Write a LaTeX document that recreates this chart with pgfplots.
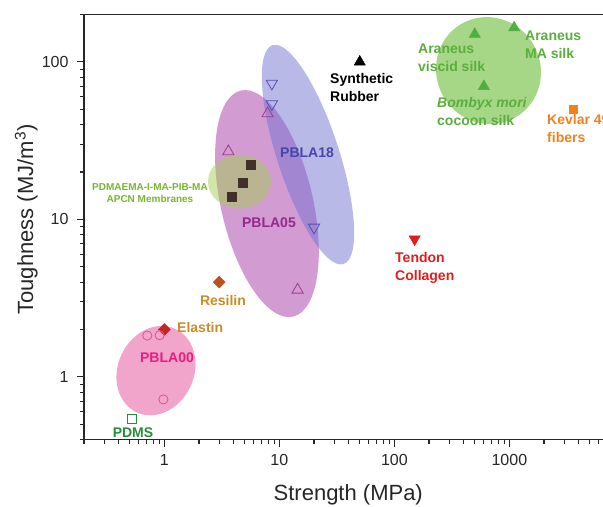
\documentclass[border=0pt]{standalone}
\usepackage{pgfplots}
\pgfplotsset{compat=1.18}
\usepackage{fontspec}
\setmainfont{Liberation Sans}
\definecolor{ePink}{RGB}{241,165,202}
\definecolor{ePurple}{RGB}{210,155,210}
\definecolor{eBlue}{RGB}{115,115,209}
\definecolor{eGreenA}{RGB}{165,205,85}
\definecolor{eGreenS}{RGB}{165,215,135}
\definecolor{tSilk}{RGB}{90,175,60}
\definecolor{tKevlar}{RGB}{240,130,30}
\definecolor{tTendon}{RGB}{225,30,30}
\definecolor{tGold}{RGB}{200,140,40}
\definecolor{tPink}{RGB}{230,30,130}
\definecolor{tPDMS}{RGB}{40,140,60}
\definecolor{tPurple}{RGB}{150,40,140}
\definecolor{tBlue}{RGB}{70,70,170}
\definecolor{tAPCN}{RGB}{120,180,50}
\definecolor{mResilin}{RGB}{190,80,30}
\definecolor{mElastin}{RGB}{200,35,30}
\definecolor{mPink}{RGB}{225,80,140}
\definecolor{mPurple}{RGB}{155,60,145}
\definecolor{mBlue}{RGB}{80,80,176}
\definecolor{mAPCN}{RGB}{68,48,42}
\definecolor{mSilk}{RGB}{80,175,65}
\begin{document}
\begin{tikzpicture}
\useasboundingbox (-84pt,-66.5pt) rectangle (519pt,439.6pt);
\begin{axis}[
  scale only axis, width=540.4pt, height=425.1pt,
  xmode=log, ymode=log, xmin=0.2, xmax=10000, ymin=0.4, ymax=200,
  xtick={1,10,100,1000}, xticklabels={1,10,100,1000},
  ytick={1,10,100}, yticklabels={1,10,100},
  minor xtick={0.2,0.3,0.4,0.5,0.6,0.7,0.8,0.9,2,3,4,5,6,7,8,9,20,30,40,50,60,70,80,90,200,300,400,500,600,700,800,900,2000,3000,4000,5000,6000,7000,8000,9000},
  minor ytick={0.4,0.5,0.6,0.7,0.8,0.9,2,3,4,5,6,7,8,9,20,30,40,50,60,70,80,90,200},
  tick align=outside, tick pos=left,
  major tick length=7pt, minor tick length=4pt,
  axis line style={line width=1.4pt, black!85},
  every tick/.style={line width=1.1pt, black!85},
  every minor tick/.style={line width=1.1pt, black!85},
  tick label style={font=\fontsize{16}{19}\selectfont, text=black!85},
  xticklabel style={yshift=-4pt},
  yticklabel style={xshift=-5pt},
  /pgf/number format/assume math mode=true,
  xlabel={Strength (MPa)},
  ylabel={Toughness (MJ/m\textsuperscript{3})},
  label style={font=\fontsize{22}{26}\selectfont, text=black!85},
  xlabel style={at={(rel axis cs:0.489,-0.13)}, anchor=center},
  ylabel style={at={(rel axis cs:-0.107,0.5175)}, anchor=center},
  clip=false,
]
% shaded regions
\fill[ePink, rotate around={-25:(rel axis cs:0.1332,0.1623)}] (rel axis cs:0.1332,0.1623) ellipse [x radius=38pt, y radius=46pt];
\fill[ePurple, rotate around={13:(rel axis cs:0.3386,0.5552)}] (rel axis cs:0.3386,0.5552) ellipse [x radius=46pt, y radius=116pt];
\fill[eBlue, opacity=0.5, rotate around={18:(rel axis cs:0.4145,0.6704)}] (rel axis cs:0.4145,0.6704) ellipse [x radius=31pt, y radius=115pt];
\fill[eGreenA, opacity=0.5] (rel axis cs:0.2877,0.6069) ellipse [x radius=31.5pt, y radius=27pt];
\fill[eGreenS, rotate around={30:(rel axis cs:0.7485,0.868)}] (rel axis cs:0.7485,0.868) ellipse [x radius=52pt, y radius=54pt];

% data
\addplot[only marks, mark=triangle*, mark size=6.5pt, black] coordinates {(50,100)};
\addplot[only marks, mark=triangle*, mark size=6.5pt, mSilk] coordinates {(500,150) (1100,165) (600,70)};
\addplot[only marks, mark=square*, mark size=4pt, tKevlar] coordinates {(3600,50)};
\addplot[only marks, mark=triangle*, mark size=6.5pt, tTendon, mark options={rotate=180}] coordinates {(150,7.5)};
\addplot[only marks, mark=square*, mark size=4.2pt, mResilin, mark options={rotate=45}] coordinates {(3,4)};
\addplot[only marks, mark=square*, mark size=4.2pt, mElastin, mark options={rotate=45}] coordinates {(1,2)};
\addplot[only marks, mark=square, mark size=4.3pt, tPDMS, line width=0.8pt] coordinates {(0.52,0.54)};
\addplot[only marks, mark=o, mark size=4.6pt, mPink, line width=0.8pt] coordinates {(0.71,1.83) (0.91,1.84) (0.98,0.72)};
\addplot[only marks, mark=triangle, mark size=6.5pt, mPurple, line width=0.8pt] coordinates {(3.6,27) (7.9,47) (14.4,3.57)};
\addplot[only marks, mark=triangle, mark size=6.5pt, mBlue, line width=0.8pt, mark options={rotate=180}] coordinates {(8.6,73) (8.6,54) (20,8.9)};
\addplot[only marks, mark=square*, mark size=4.5pt, mAPCN] coordinates {(5.6,22.4) (4.8,17) (3.85,14)};

% labels
\node[inner sep=0pt, font=\fontsize{14}{18}\selectfont\bfseries, anchor=west, align=left, text=black] at (rel axis cs:0.4552,0.828) {Synthetic\\Rubber};
\node[inner sep=0pt, font=\fontsize{14}{18}\selectfont\bfseries, anchor=west, align=left, text=tSilk] at (rel axis cs:0.618,0.8986) {Araneus\\viscid silk};
\node[inner sep=0pt, font=\fontsize{14}{18}\selectfont\bfseries, anchor=west, align=left, text=tSilk] at (rel axis cs:0.816,0.929) {Araneus\\MA silk};
\node[inner sep=0pt, font=\fontsize{14}{18}\selectfont\bfseries, anchor=west, align=left, text=tSilk] at (rel axis cs:0.6532,0.7728) {\textit{Bombyx mori}\\cocoon silk};
\node[inner sep=0pt, font=\fontsize{14}{18}\selectfont\bfseries, anchor=west, align=left, text=tKevlar] at (rel axis cs:0.8568,0.7316) {Kevlar 49\\fibers};
\node[inner sep=0pt, font=\fontsize{14}{18}\selectfont\bfseries, anchor=west, align=left, text=tTendon] at (rel axis cs:0.5755,0.4046) {Tendon\\Collagen};
\node[inner sep=0pt, font=\fontsize{14}{18}\selectfont\bfseries, anchor=center, text=tGold] at (rel axis cs:0.2572,0.327) {Resilin};
\node[inner sep=0pt, font=\fontsize{14}{18}\selectfont\bfseries, anchor=west, text=tGold] at (rel axis cs:0.1721,0.2635) {Elastin};
\node[inner sep=0pt, font=\fontsize{14}{18}\selectfont\bfseries, anchor=center, text=tPink] at (rel axis cs:0.1536,0.1929) {PBLA00};
\node[inner sep=0pt, font=\fontsize{14}{18}\selectfont\bfseries, anchor=center, text=tPDMS] at (rel axis cs:0.0907,0.0165) {PDMS};
\node[inner sep=0pt, font=\fontsize{14}{18}\selectfont\bfseries, anchor=center, text=tPurple] at (rel axis cs:0.3423,0.5105) {PBLA05};
\node[inner sep=0pt, font=\fontsize{14}{18}\selectfont\bfseries, anchor=center, text=tBlue] at (rel axis cs:0.4127,0.675) {PBLA18};
\node[inner sep=0pt, font=\fontsize{10}{12}\selectfont\bfseries, anchor=center, align=center, text=tAPCN] at (rel axis cs:0.1221,0.581) {PDMAEMA-I-MA-PIB-MA\\APCN Membranes};
\end{axis}
\end{tikzpicture}
\end{document}
